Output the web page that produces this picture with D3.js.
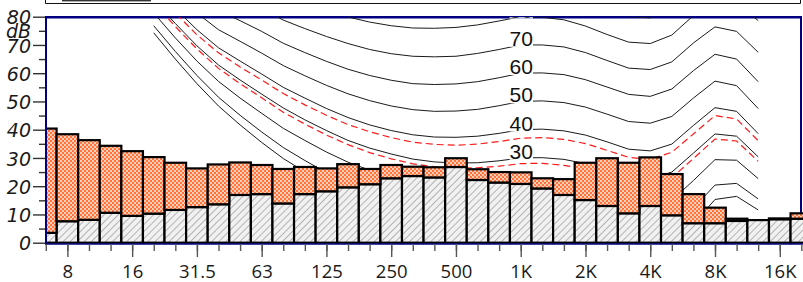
<!DOCTYPE html>
<html>
<head>
<meta charset="utf-8">
<script src="https://cdn.jsdelivr.net/npm/d3@7/dist/d3.min.js"></script>
<style>
  html, body { margin: 0; padding: 0; background: #fff; }
  svg { display: block; }
  .ylab { font-family: "DejaVu Sans", sans-serif; font-style: oblique; font-size: 19px; fill: #1a1a1a; }
</style>
</head>
<body>
<svg id="chart" width="803" height="282"></svg>
<script>
// third-octave bands, nominal centre frequencies (Hz)
var bands = [6.3, 8, 10, 12.5, 16, 20, 25, 31.5, 40, 50, 63, 80, 100, 125, 160, 200, 250, 315, 400,
  500, 630, 800, 1000, 1250, 1600, 2000, 2500, 3150, 4000, 5000, 6300, 8000, 10000, 12500, 16000, 20000];
// level of the grey (lower) bar, dB
var lower = [3.5, 7.6, 8.1, 10.6, 9.5, 10.3, 11.6, 12.6, 13.6, 16.9, 17.2, 13.9, 17.2, 18.2, 19.6, 20.7, 22.8, 23.6, 23.1,
  26.8, 22.2, 21.3, 20.8, 19.2, 16.9, 15.1, 13.0, 10.4, 13.0, 9.7, 6.9, 6.9, 7.7, 8.0, 8.3, 8.5];
// top of the orange (upper) bar, dB
var upper = [40.4, 38.4, 36.3, 34.3, 32.4, 30.3, 28.3, 26.3, 27.7, 28.4, 27.5, 26.1, 26.8, 26.3, 27.8, 26.1, 27.5, 26.9, 26.7,
  29.9, 26.0, 25.0, 24.9, 22.8, 22.5, 28.3, 29.9, 28.3, 30.2, 24.3, 17.2, 12.4, 8.5, 8.0, 8.6, 10.4];

var tickFreqs = [8, 16, 31.5, 63, 125, 250, 500, 1000, 2000, 4000, 8000, 16000];
var tickLabels = ["8", "16", "31.5", "63", "125", "250", "500", "1K", "2K", "4K", "8K", "16K"];
var yMajor = [0, 10, 20, 30, 40, 50, 60, 70, 80];
var yMinor = [5, 15, 25, 35, 45, 55, 65, 75];

// equal loudness contours, dB SPL at these frequencies
var contourFreqs = [20, 25, 31.5, 40, 50, 63, 80, 100, 125, 160, 200, 250, 315, 400, 500, 630, 800, 1000,
  1250, 1600, 2000, 2500, 3150, 4000, 5000, 6300, 8000, 10000, 12500];
var threshold = [74.3, 65.0, 56.3, 48.4, 41.7, 35.5, 29.8, 25.1, 20.7, 16.8, 13.8, 11.2, 8.9, 7.2, 6.0, 5.0, 4.4, 4.2,
  3.7, 2.6, 1.0, -1.2, -3.6, -3.9, -1.1, 6.6, 15.3, 16.4, 11.6];
var phon10 = [76.8, 67.7, 59.2, 51.5, 45.1, 39.2, 33.7, 29.1, 24.8, 21.0, 18.1, 15.6, 13.4, 11.9, 10.9, 10.1, 9.9, 10.0,
  9.7, 8.7, 7.2, 5.0, 2.6, 2.2, 4.8, 12.2, 20.4, 21.0, 15.5];
var phon20 = [81.3, 72.5, 64.3, 57.1, 51.2, 45.8, 40.5, 36.2, 32.1, 28.5, 25.7, 23.3, 21.4, 20.1, 19.4, 19.1, 19.4, 20.0,
  19.9, 19.2, 17.7, 15.4, 13.0, 12.5, 15.0, 22.0, 29.4, 29.2, 22.7];
var phon30 = [86.0, 77.6, 69.7, 62.9, 57.6, 52.6, 47.7, 43.5, 39.7, 36.2, 33.5, 31.4, 29.6, 28.6, 28.2, 28.3, 29.0, 30.0,
  30.1, 29.5, 28.0, 25.7, 23.2, 22.6, 25.0, 31.7, 38.5, 37.7, 30.4];
var phon40 = [91.0, 82.9, 75.4, 69.0, 64.3, 59.7, 55.0, 51.2, 47.5, 44.3, 41.7, 39.7, 38.2, 37.4, 37.3, 37.7, 38.7, 40.0,
  40.2, 39.6, 38.1, 35.7, 33.1, 32.5, 34.9, 41.5, 47.8, 46.5, 38.6];
var phon50 = [96.2, 88.5, 81.3, 75.4, 71.3, 67.1, 62.7, 59.1, 55.7, 52.7, 50.3, 48.4, 47.1, 46.5, 46.6, 47.2, 48.5, 50.0,
  50.2, 49.6, 48.0, 45.5, 42.9, 42.3, 44.7, 51.2, 57.2, 55.6, 47.5];
var phon60 = [101.7, 94.4, 87.6, 82.1, 78.6, 74.8, 70.6, 67.3, 64.2, 61.4, 59.2, 57.5, 56.3, 56.0, 56.2, 57.0, 58.4, 60.0,
  60.1, 59.5, 57.7, 55.1, 52.5, 51.8, 54.4, 60.9, 66.7, 65.0, 57.0];
var phon70 = [107.6, 100.7, 94.3, 89.2, 86.4, 82.8, 78.8, 75.8, 73.0, 70.5, 68.4, 66.9, 66.0, 65.8, 66.0, 67.0, 68.4, 70.0,
  70.0, 69.3, 67.3, 64.5, 61.8, 61.3, 64.0, 70.7, 76.4, 74.8, 67.4];
var phon80 = [113.7, 107.3, 101.3, 96.6, 94.6, 91.1, 87.4, 84.7, 82.2, 79.9, 78.1, 76.8, 76.0, 75.9, 76.2, 77.1, 78.5, 80.0,
  79.8, 78.9, 76.7, 73.7, 71.0, 70.5, 73.5, 80.4, 86.3, 84.9, 78.6];
var phon90 = [120.3, 114.4, 108.7, 104.4, 103.2, 99.8, 96.3, 94.0, 91.8, 89.8, 88.1, 87.0, 86.4, 86.4, 86.6, 87.5, 88.7, 90.0,
  89.5, 88.4, 85.9, 82.7, 80.0, 79.6, 82.9, 90.1, 96.3, 95.5, 90.9];
// the two red dashed curves
var redLow = [85.1, 76.5, 68.6, 61.7, 56.3, 51.3, 46.2, 42.0, 38.1, 34.7, 31.9, 29.7, 27.9, 26.9, 26.4, 26.5, 27.1, 28.0,
  28.1, 27.4, 26.0, 23.6, 21.1, 20.6, 23.0, 29.8, 36.7, 36.0, 28.8];
var redHigh = [89.5, 81.3, 73.6, 67.2, 62.2, 57.6, 52.8, 48.8, 45.1, 41.8, 39.3, 37.2, 35.6, 34.8, 34.5, 34.9, 35.8, 37.0,
  37.2, 36.6, 35.1, 32.7, 30.2, 29.5, 32.0, 38.5, 45.0, 43.8, 36.1];
var contourLabels = [30, 40, 50, 60, 70, 80];

(function () {
  var svg = d3.select("#chart"),
    left = 45, right = 801, top = 16.7, bottom = 242.7,
    navy = "#000080";

  var x = d3.scaleLog().base(2).domain([6.148, 20083]).range([left, right]);
  var y = d3.scaleLinear().domain([0, 80]).range([bottom, top]);

  // nominal -> exact base-2 third octave centre
  function centre(f) {
    return 1000 * Math.pow(2, Math.round(3 * Math.log2(f / 1000)) / 3);
  }

  var defs = svg.append("defs");
  defs.append("clipPath").attr("id", "plotClip")
    .append("rect").attr("x", left).attr("y", 17.2).attr("width", right - left).attr("height", bottom - 17.2);
  defs.append("clipPath").attr("id", "barClip")
    .append("rect").attr("x", left).attr("y", 0).attr("width", 820).attr("height", bottom + 2);

  var hatch = defs.append("pattern").attr("id", "hatch")
    .attr("patternUnits", "userSpaceOnUse").attr("width", 5).attr("height", 5)
    .attr("patternTransform", "rotate(45)");
  hatch.append("rect").attr("width", 5).attr("height", 5).attr("fill", "#f1f1f1");
  hatch.append("line").attr("x1", 0.5).attr("y1", 0).attr("x2", 0.5).attr("y2", 5)
    .attr("stroke", "#b4b4b4").attr("stroke-width", 1);

  var check = defs.append("pattern").attr("id", "check")
    .attr("patternUnits", "userSpaceOnUse").attr("width", 4).attr("height", 4);
  check.append("rect").attr("width", 4).attr("height", 4).attr("fill", "#ff7438");
  check.append("rect").attr("x", 0.2).attr("y", 0.2).attr("width", 1.6).attr("height", 1.6).attr("fill", "#fff");
  check.append("rect").attr("x", 2.2).attr("y", 2.2).attr("width", 1.6).attr("height", 1.6).attr("fill", "#fff");

  // cut-off panel above
  svg.append("path").attr("d", "M45.5,0V3.5H800.5V0")
    .attr("fill", "none").attr("stroke", "#111").attr("stroke-width", 1);
  svg.append("rect").attr("x", 62).attr("y", -1).attr("width", 89).attr("height", 2.4).attr("fill", "#333");

  // frame top / right
  svg.append("line").attr("x1", left).attr("x2", right + 1).attr("y1", 17.3).attr("y2", 17.3)
    .attr("stroke", navy).attr("stroke-width", 2.6);
  svg.append("line").attr("x1", right).attr("x2", right).attr("y1", 16).attr("y2", bottom)
    .attr("stroke", navy).attr("stroke-width", 2);

  // contours
  var line = d3.line()
    .x(function (d, i) { return x(centre(contourFreqs[i])); })
    .y(function (d) { return y(d); });

  var cg = svg.append("g").attr("clip-path", "url(#plotClip)");
  cg.selectAll("path.contour")
    .data([threshold, phon10, phon20, phon30, phon40, phon50, phon60, phon70, phon80, phon90])
    .enter().append("path")
    .attr("class", "contour")
    .attr("d", line)
    .attr("fill", "none").attr("stroke", "#1a1a1a").attr("stroke-width", 1);
  cg.selectAll("path.red")
    .data([redLow, redHigh])
    .enter().append("path")
    .attr("class", "red")
    .attr("d", line)
    .attr("fill", "none").attr("stroke", "#ff1a1a").attr("stroke-width", 1.2)
    .attr("stroke-dasharray", "7,4");

  var lab = cg.selectAll("g.lab").data(contourLabels).enter().append("g").attr("class", "lab");
  lab.append("rect")
    .attr("x", 509.5).attr("width", 23.5)
    .attr("y", function (d) { return y(d) - 16; })
    .attr("height", 17.8)
    .attr("fill", "#fff");
  lab.append("text")
    .attr("x", 509.5)
    .attr("y", function (d) { return y(d) + 1; })
    .attr("font-family", "Liberation Sans, Arial, sans-serif")
    .attr("font-size", 21)
    .attr("fill", "#111")
    .text(function (d) { return d; });

  // bars
  var bg = svg.append("g").attr("clip-path", "url(#barClip)");
  function x0(f) { return x(centre(f) / Math.pow(2, 1 / 6)); }
  function x1(f) { return x(centre(f) * Math.pow(2, 1 / 6)); }

  bg.selectAll("rect.low")
    .data(bands).enter().append("rect")
    .attr("class", "low")
    .attr("x", function (d) { return x0(d); })
    .attr("width", function (d) { return x1(d) - x0(d); })
    .attr("y", function (d, i) { return y(lower[i]); })
    .attr("height", function (d, i) { return y(0) - y(lower[i]); })
    .attr("fill", "url(#hatch)").attr("stroke", "#000").attr("stroke-width", 2.2);

  bg.selectAll("rect.up")
    .data(bands).enter().append("rect")
    .attr("class", "up")
    .attr("x", function (d) { return x0(d); })
    .attr("width", function (d) { return x1(d) - x0(d); })
    .attr("y", function (d, i) { return y(upper[i]); })
    .attr("height", function (d, i) { return Math.max(0, y(lower[i]) - y(upper[i])); })
    .attr("fill", "url(#check)").attr("stroke", "#000").attr("stroke-width", 2.2);

  // frame left / bottom
  svg.append("line").attr("x1", left + 1).attr("x2", left + 1).attr("y1", 16).attr("y2", 244.5)
    .attr("stroke", navy).attr("stroke-width", 2);
  svg.append("line").attr("x1", left).attr("x2", 803).attr("y1", 244).attr("y2", 244)
    .attr("stroke", navy).attr("stroke-width", 1.3);

  // y axis
  var yMinorAxis = d3.axisLeft(y).tickValues(yMinor).tickSize(6).tickFormat("");
  var yMajorAxis = d3.axisLeft(y).tickValues(yMajor).tickSize(12).tickPadding(2);
  [yMinorAxis, yMajorAxis].forEach(function (ax) {
    var g = svg.append("g").attr("transform", "translate(" + left + ",0)").call(ax);
    g.select(".domain").remove();
    g.attr("font-family", null).attr("font-size", null);
    g.selectAll(".tick line").attr("stroke", "#333").attr("stroke-width", 1.4);
    g.selectAll("text")
      .attr("class", "ylab")
      .attr("fill", null)
      .attr("dy", "0.38em");
  });
  svg.append("text")
    .attr("class", "ylab")
    .attr("x", 31).attr("y", 38)
    .attr("text-anchor", "end")
    .text("dB");

  // x axis
  var xMinorAxis = d3.axisBottom(x).tickValues(bands.map(centre)).tickSize(7).tickFormat("");
  var xMajorAxis = d3.axisBottom(x).tickValues(tickFreqs.map(centre)).tickSize(13)
    .tickFormat(function (d, i) { return tickLabels[i]; });
  [xMinorAxis, xMajorAxis].forEach(function (ax) {
    var g = svg.append("g").attr("transform", "translate(0,244)").call(ax);
    g.select(".domain").remove();
    g.selectAll(".tick line").attr("stroke", "#555").attr("stroke-width", 1.4);
    g.selectAll("text")
      .attr("y", 33.5).attr("dy", null)
      .attr("font-family", "Open Sans, sans-serif")
      .attr("font-size", 18.5)
      .attr("fill", "#1a1a1a");
  });
})();
</script>
</body>
</html>
